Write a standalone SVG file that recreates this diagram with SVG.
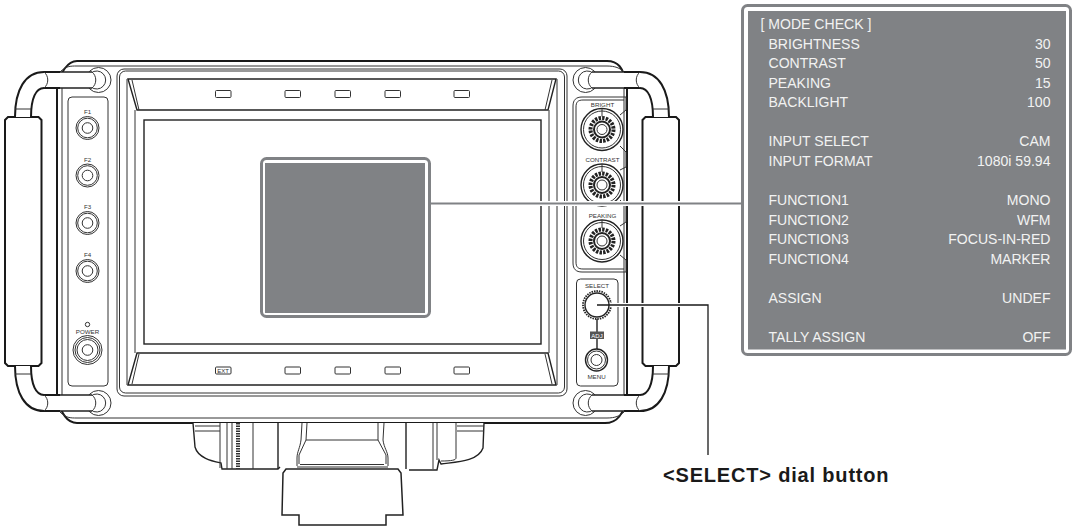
<svg xmlns="http://www.w3.org/2000/svg" width="1081" height="531" viewBox="0 0 1081 531">
<style>
.k{fill:none;stroke:#1a1a1a;stroke-width:2}
.t{fill:none;stroke:#333;stroke-width:1}
.m{fill:none;stroke:#222;stroke-width:1.4}
.lab{font-family:"Liberation Sans",Arial,sans-serif;font-size:6.2px;fill:#333;text-anchor:middle}
.ml{font-family:"Liberation Sans",Arial,sans-serif;font-size:14.05px;fill:#f2f2f2}
.mr{font-family:"Liberation Sans",Arial,sans-serif;font-size:14.05px;fill:#f2f2f2;text-anchor:end}
</style>
<defs>
<g id="corner">
<circle cx="98.5" cy="80" r="12.5" fill="#fff" stroke="#333" stroke-width="1"/>
<path class="t" d="M91 73A9 9 0 1 1 91 87"/>
<path d="M15 117C15 90 25 72 44 72H92C96 76 96 84 92 88H44C36 88 31 98 31 117Z" fill="#fff" stroke="none"/>
<path class="k" d="M15 117C15 90 25 72 44 72H60"/>
<path class="k" d="M31 117C31 98 36 88 44 88H60"/>
<path class="m" d="M60 72H92M60 88H92"/>
<path class="t" d="M92 72C97 76 97 84 92 88M44 72C49 76 49 84 44 88M15 109H31"/>
</g>
<g id="button"><circle r="11.5" class="t"/><circle r="9.8" class="t"/><circle r="5.3" class="t"/></g>
<g id="knob">
<circle r="21" class="m"/><circle r="18.500" class="t"/>
<circle r="11.500" fill="none" stroke="#222" stroke-width="4" stroke-dasharray="2.400 1.200"/>
<circle r="8" fill="#fff" stroke="#222" stroke-width="2"/><circle r="5" class="t"/>
<path class="t" d="M0 -21V-13"/>
</g>
<rect id="smallbtn" x="0" y="-3.500" width="15.500" height="7" rx="1" class="t"/>
<path id="grip" d="M5 120L8 117H38.500L41.500 120V363L38.500 366H8L5 363Z" fill="#fff" stroke="#1a1a1a" stroke-width="2"/>
</defs>

<g id="body">
<path class="k" d="M57 88C60 72 68 61 77 61H607C617 61 624 66 627 88V396C624 415 617 423 605 423H77C68 423 61 415 57 396Z" fill="#fff"/>
<path class="t" d="M60 72C66 66 70 66 77 66H607C615 66 620 68 624 72M62 88V396M624 88V396M60 412C66 418 70 418 77 418H607C615 418 620 416 624 412"/>
</g>

<g id="mount">
<path d="M193 423L195 447C198 458 212 461 221 463L222 469L229 470H278L279 467H287V469H399L402 473L409 469H438L439 459L441 463C455 462 478 462 483 448L484 423Z" fill="#fff" stroke="none"/>
<path class="m" d="M193 423L195 447C198 458 212 461 221 463L222 469H278L280 467M409 470H437L439 460L441 464C455 462 478 462 483 448L484 423"/>
<path class="t" d="M195 426H220M195 431H220M457 426H484M457 431H484M220 423V468M227 423V469M232 423V469M253 423V469M433 423V469M437 423V460M456 423V458C456 460 452 461 441 461"/>
<path d="M238 423V469" stroke="#333" stroke-width="4" stroke-dasharray="1.500 1" fill="none"/>
<path class="m" d="M278 423V469M406 423V469"/>
<path class="t" d="M302 423L301 440C300 448 297 452 297 458V466M307 423L306 440L299 455V464M378 423L378 440L386 455V464M384 423L383 440C384 448 388 452 388 458V466M306 440H378M300 464.500H384M297 467H388"/>
<path d="M286 469H398L401 473L403 515H386V525H299V515H282L283 473Z" fill="#fff" stroke="#222" stroke-width="1.500"/>
</g>

<g id="handles">
<use href="#grip"/>
<use href="#grip" transform="translate(684 0) scale(-1 1)"/>
<use href="#corner"/>
<use href="#corner" transform="translate(684 0) scale(-1 1)"/>
<use href="#corner" transform="translate(0 483) scale(1 -1)"/>
<use href="#corner" transform="translate(684 483) scale(-1 -1)"/>
</g>

<g id="left-panel">
<rect x="68" y="97" width="40" height="289" rx="4" class="t"/>
<text class="lab" x="87.500" y="114">F1</text>
<use href="#button" x="87.500" y="128"/>
<text class="lab" x="87.500" y="162">F2</text>
<use href="#button" x="87.500" y="175.500"/>
<text class="lab" x="87.500" y="209">F3</text>
<use href="#button" x="87.500" y="223"/>
<text class="lab" x="87.500" y="257">F4</text>
<use href="#button" x="87.500" y="271"/>
<circle cx="87.500" cy="324.500" r="2.200" class="t"/>
<text class="lab" x="87.500" y="334">POWER</text>
<circle cx="87.500" cy="350" r="14.500" class="t"/><circle cx="87.500" cy="350" r="12.500" class="t"/><circle cx="87.500" cy="350" r="10.500" class="t"/><circle cx="87.500" cy="350" r="5.300" class="t"/>
</g>

<g id="screen-frame">
<rect x="117" y="69" width="450" height="327" rx="7" class="t"/>
<rect x="119.500" y="71" width="445" height="322" rx="6" class="t"/>
<path class="m" d="M128 79H556L548 110H137ZM128 385H556L548 353H137Z"/>
<path class="t" d="M127 79V385M557 79V385M132 80L139 110M552 80L545 110M132 384L139 354M552 384L545 354M135 110V353M549 110V353"/>
<rect x="144" y="120" width="397" height="224" class="m" fill="#fff"/>
<use href="#smallbtn" x="215.500" y="94"/><use href="#smallbtn" x="285" y="94"/><use href="#smallbtn" x="335" y="94"/><use href="#smallbtn" x="385" y="94"/><use href="#smallbtn" x="454" y="94"/>
<use href="#smallbtn" x="215.500" y="370.500"/><use href="#smallbtn" x="285" y="370.500"/><use href="#smallbtn" x="335" y="370.500"/><use href="#smallbtn" x="385" y="370.500"/><use href="#smallbtn" x="454" y="370.500"/>
<text class="lab" x="223.200" y="373" style="font-size:6px">EXT</text>
</g>

<g id="knob-panel">
<path class="t" d="M626 97H582C576 97 573 100 573 106V263C573 269 576 272 582 272H626"/>
<path class="t" d="M624 100H583C578 100 576 102 576 107V262C576 267 578 269 583 269H624"/>
<path class="t" d="M626 97V110L620 115M620 146L626 152V167L620 170M620 200L626 206V222L620 226M620 255L626 260V272"/>
<text class="lab" x="602.500" y="107">BRIGHT</text>
<use href="#knob" x="602" y="129.500"/>
<text class="lab" x="602.500" y="162">CONTRAST</text>
<use href="#knob" x="602" y="185"/>
<text class="lab" x="602.500" y="218">PEAKING</text>
<use href="#knob" x="602" y="241"/>
</g>

<g id="select-panel">
<rect x="576.500" y="279" width="41.500" height="107" rx="4" class="t"/>
<text class="lab" x="597" y="288">SELECT</text>
<circle cx="597" cy="305" r="14" fill="#fff" stroke="#222" stroke-width="1.800" stroke-dasharray="1.500 1"/>
<circle cx="597" cy="305" r="12" class="m"/>
<path class="m" d="M597 319V349"/>
<rect x="590" y="331.500" width="14" height="7.500" fill="#555"/>
<text class="lab" x="597" y="337.500" style="font-size:6px;fill:#fff">ADJ</text>
<circle cx="596.500" cy="360" r="11" class="m" fill="#fff"/><circle cx="596.500" cy="360" r="9" class="t"/><circle cx="596.500" cy="360" r="5.500" class="t"/>
<text class="lab" x="596.500" y="379">MENU</text>
</g>

<g id="connectors">
<path d="M431 203.500H742" fill="none" stroke="#fff" stroke-width="5"/>
<path d="M431 203.500H742" fill="none" stroke="#808285" stroke-width="2.200"/>
<path d="M610 305H708" fill="none" stroke="#fff" stroke-width="4"/>
<path d="M597 305H708V455" fill="none" stroke="#1a1a1a" stroke-width="1.300"/>
</g>

<g id="highlight">
<rect x="261.500" y="158.500" width="168" height="158" rx="5" fill="#fff" stroke="#808285" stroke-width="3"/>
<rect x="265" y="163" width="160" height="150" fill="#808285"/>
</g>

<g id="mode-check">
<rect x="742.500" y="5.500" width="328" height="349" rx="5" fill="#fff" stroke="#808285" stroke-width="3"/>
<rect x="748" y="11" width="318" height="338.500" fill="#808285"/>
<text class="ml" x="760.500" y="29">[ MODE CHECK ]</text>
<text class="ml" x="768.500" y="49">BRIGHTNESS</text><text class="mr" x="1050.500" y="49">30</text>
<text class="ml" x="768.500" y="68">CONTRAST</text><text class="mr" x="1050.500" y="68">50</text>
<text class="ml" x="768.500" y="88">PEAKING</text><text class="mr" x="1050.500" y="88">15</text>
<text class="ml" x="768.500" y="107">BACKLIGHT</text><text class="mr" x="1050.500" y="107">100</text>
<text class="ml" x="768.500" y="146">INPUT SELECT</text><text class="mr" x="1050.500" y="146">CAM</text>
<text class="ml" x="768.500" y="166">INPUT FORMAT</text><text class="mr" x="1050.500" y="166">1080i 59.94</text>
<text class="ml" x="768.500" y="205">FUNCTION1</text><text class="mr" x="1050.500" y="205">MONO</text>
<text class="ml" x="768.500" y="225">FUNCTION2</text><text class="mr" x="1050.500" y="225">WFM</text>
<text class="ml" x="768.500" y="244">FUNCTION3</text><text class="mr" x="1050.500" y="244">FOCUS-IN-RED</text>
<text class="ml" x="768.500" y="264">FUNCTION4</text><text class="mr" x="1050.500" y="264">MARKER</text>
<text class="ml" x="768.500" y="303">ASSIGN</text><text class="mr" x="1050.500" y="303">UNDEF</text>
<text class="ml" x="768.500" y="342">TALLY ASSIGN</text><text class="mr" x="1050.500" y="342">OFF</text>
</g>

<text id="select-label" x="663" y="481.500" style="font-family:'Liberation Sans',Arial,sans-serif;font-weight:bold;font-size:20px;letter-spacing:.82px;fill:#1a1a1a">&lt;SELECT&gt; dial button</text>
</svg>
